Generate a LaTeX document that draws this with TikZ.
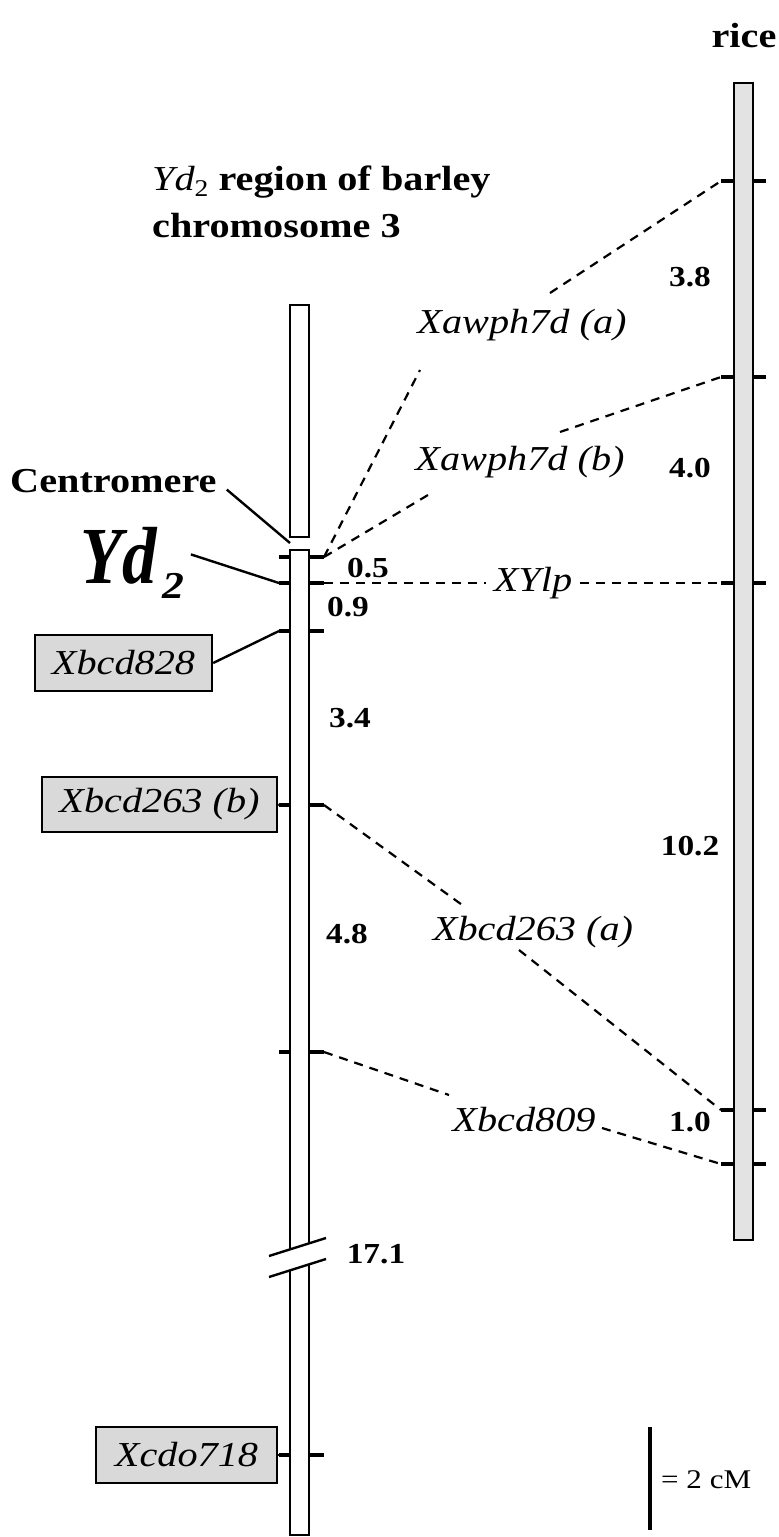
\documentclass[tikz,border=0pt]{standalone}
\usepackage{fontspec}
\setmainfont{Liberation Serif}[FakeStretch=1.15]
\begin{document}
\begin{tikzpicture}[x=1pt,y=-1pt,
  chrom/.style={draw, line width=2.4pt},
  cmark/.style={line width=3.2pt},
  link/.style={line width=2.2pt, dash pattern=on 9pt off 7pt},
  lbl/.style={font=\fontsize{35}{40}\selectfont\itshape, inner sep=0pt},
  num/.style={font=\fontsize{29}{32}\selectfont\bfseries, inner sep=0pt},
  bold/.style={font=\fontsize{35}{40}\selectfont\bfseries, inner sep=0pt},
  tagbox/.style={draw, line width=2.4pt, fill=gray!30, inner sep=0pt,
    font=\fontsize{35}{40}\selectfont\itshape}]
\useasboundingbox (0,0) rectangle (779,1537);

% titles
\node[bold, anchor=base west] (title1) at (152,190)
  {{\mdseries\itshape Yd}\raisebox{-6pt}{\mdseries\fontsize{24}{24}\selectfont 2} region of barley};
\node[bold, anchor=base west] (title2) at (152,237) {chromosome 3};
\node[bold, anchor=base] (rice) at (744,47) {rice};

% barley chromosome
\draw[chrom] (290,305) rectangle (309,537);
\draw[chrom] (290,1249) -- (290,550) -- (309,550) -- (309,1243);
\draw[chrom] (290,1270) -- (290,1535) -- (309,1535) -- (309,1264);
\draw[chrom] (269,1256) -- (326,1238);
\draw[chrom] (269,1277) -- (326,1259);

\foreach \y/\n in {557/a,583/b,631/c,805/d,1052/e,1455/f} {
  \coordinate (bl\n) at (279,\y);
  \coordinate (br\n) at (324,\y);
  \draw[cmark] (bl\n) -- (290,\y);
  \draw[cmark] (309,\y) -- (br\n);
}

% rice chromosome
\draw[chrom, fill=gray!22] (734,83) rectangle (753,1240);
\foreach \y [count=\i] in {181,377,583,1110,1164} {
  \coordinate (r\i) at (721,\y);
  \draw[cmark] (r\i) -- (734,\y);
  \draw[cmark] (753,\y) -- (766,\y);
}

% left labels
\node[bold, anchor=base west] (cen) at (10,492) {Centromere};
\coordinate (cgap) at (290,543);
\draw[chrom] ([shift={(10,9)}]cen.east) -- (cgap);

\node[anchor=base west, inner sep=0pt] (yd) at (80,583)
  {\scalebox{1}[1.35]{\fontsize{60}{60}\selectfont\bfseries\itshape Yd}\hspace{6pt}\raisebox{-15pt}{\fontsize{38}{38}\selectfont\bfseries\itshape 2}};
\draw[chrom] ([shift={(6,-8)}]yd.east) -- (blb);

\node[tagbox, minimum width=177pt, minimum height=56pt] (x828) at (123.5,663) {Xbcd828};
\node[tagbox, minimum width=235pt, minimum height=55pt] (x263b) at (159.5,804.5) {Xbcd263 (b)};
\node[tagbox, minimum width=181pt, minimum height=56pt] (x718) at (186.5,1455) {Xcdo718};
\draw[chrom] (x828.east) -- (blc);
\draw[chrom] (x263b.east) -- (bld);
\draw[chrom] (x718.east) -- (blf);

% distances
\node[num] (d1) at (368,568) {0.5};
\node[num] (d2) at (348,607) {0.9};
\node[num] (d3) at (350,718) {3.4};
\node[num] (d4) at (347,934) {4.8};
\node[num] (d5) at (376,1254) {17.1};
\node[num] (e1) at (690,277) {3.8};
\node[num] (e2) at (690,468) {4.0};
\node[num] (e3) at (690,846) {10.2};
\node[num] (e4) at (690,1122) {1.0};

% homologous markers
\node[lbl] (xa) at (522,325) {Xawph7d (a)};
\node[lbl] (xb) at (520,462) {Xawph7d (b)};
\node[lbl] (xy) at (533,583) {XYlp};
\node[lbl] (xc) at (533,932) {Xbcd263 (a)};
\node[lbl] (xd) at (524,1120) {Xbcd809};

\draw[link] (bra) -- ([shift={(-102,45)}]xa.center);
\draw[link] ([shift={(28,-32)}]xa.center) -- (r1);
\draw[link] (bra) -- ([shift={(-92,33)}]xb.center);
\draw[link] ([shift={(40,-30)}]xb.center) -- (r2);
\draw[link] (brb) -- ([xshift=-8pt]xy.west);
\draw[link] ([xshift=8pt]xy.east) -- (r3);
\draw[link] (brd) -- ([shift={(-68,-25)}]xc.center);
\draw[link] ([shift={(-14,18)}]xc.center) -- (r4);
\draw[link] (bre) -- ([shift={(-75,-25)}]xd.center);
\draw[link] ([shift={(78,8)}]xd.center) -- (r5);

% scale
\coordinate (s1) at (650,1427);
\coordinate (s2) at (650,1530);
\draw[cmark] (s1) -- (s2);
\node[font=\fontsize{27}{30}\selectfont, inner sep=0pt, anchor=west] (cm) at (661,1480) {= 2 cM};
\end{tikzpicture}
\end{document}
